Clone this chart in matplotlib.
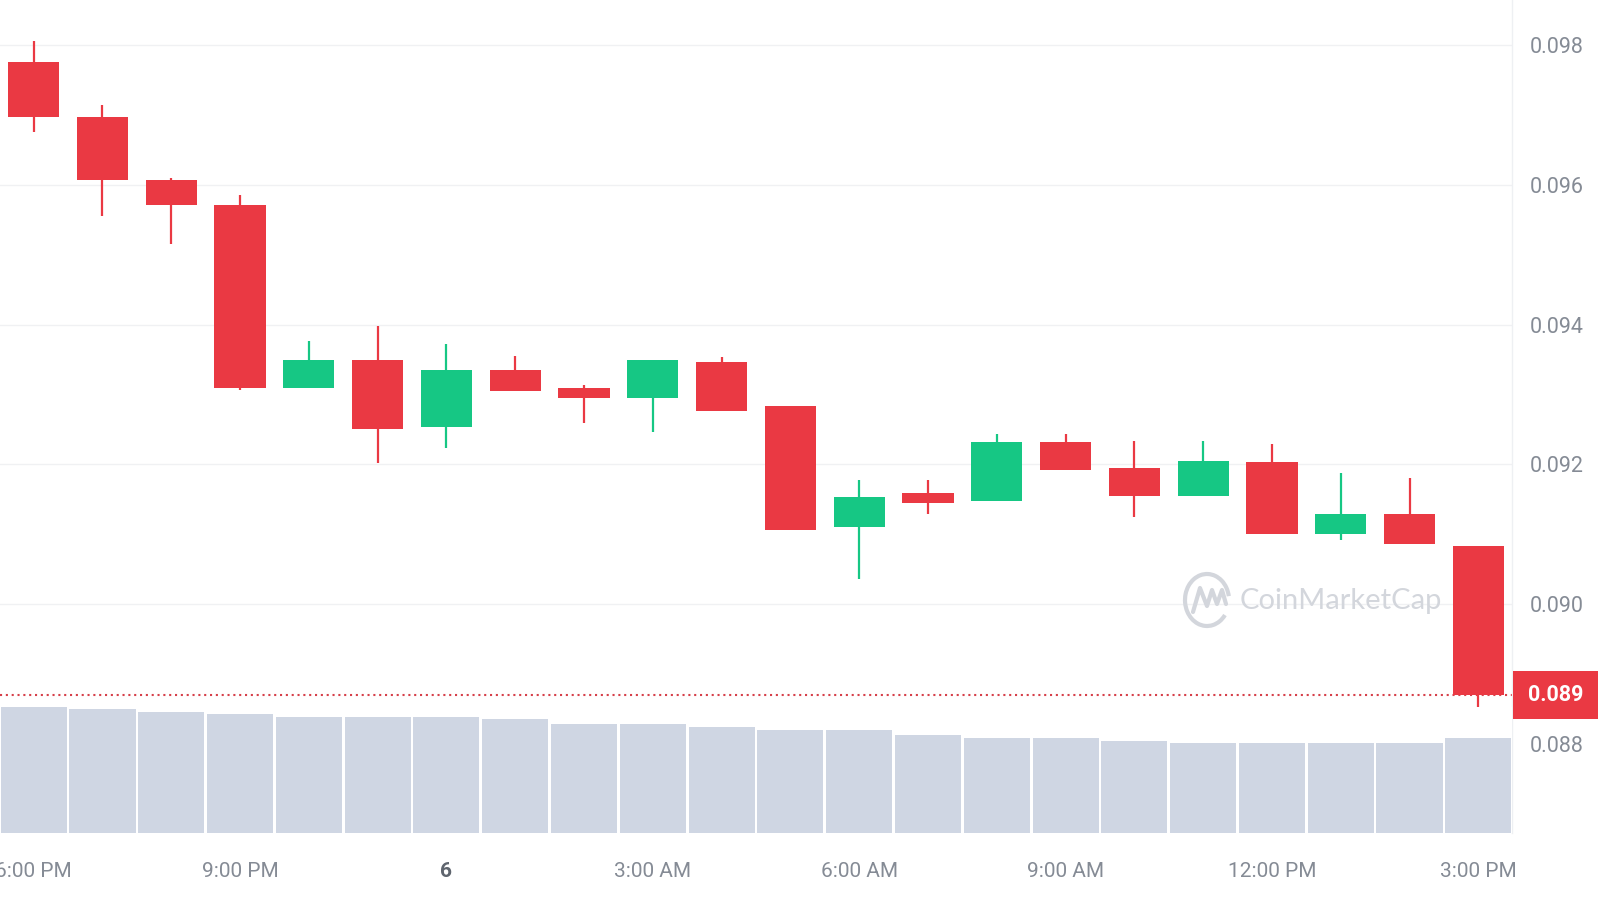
import matplotlib
matplotlib.use("Agg")
import matplotlib.pyplot as plt
import matplotlib.transforms as mtransforms
from matplotlib.patches import Arc, Rectangle

plt.rcParams['font.family'] = ['Roboto', 'DejaVu Sans']

# ---------------- data (hourly candles) ----------------
time_labels = ["6:00 PM", "9:00 PM", "6", "3:00 AM", "6:00 AM", "9:00 AM", "12:00 PM", "3:00 PM"]
label_idx = [0, 3, 6, 9, 12, 15, 18, 21]

opens = [0.09775, 0.09697, 0.09607, 0.09571, 0.09310, 0.09349, 0.09254, 0.09335,
         0.09309, 0.09295, 0.09346, 0.09283, 0.09111, 0.09159, 0.09148, 0.09232,
         0.09195, 0.09155, 0.09203, 0.09100, 0.09129, 0.09084]
highs = [0.09805, 0.09713, 0.09610, 0.09585, 0.09377, 0.09398, 0.09372, 0.09355,
         0.09314, 0.09349, 0.09353, 0.09283, 0.09178, 0.09178, 0.09243, 0.09243,
         0.09233, 0.09233, 0.09229, 0.09188, 0.09180, 0.09084]
lows = [0.09675, 0.09555, 0.09515, 0.09306, 0.09309, 0.09202, 0.09224, 0.09305,
        0.09259, 0.09247, 0.09276, 0.09107, 0.09037, 0.09129, 0.09148, 0.09192,
        0.09125, 0.09155, 0.09100, 0.09092, 0.09086, 0.08854]
closes = [0.09697, 0.09607, 0.09571, 0.09310, 0.09349, 0.09251, 0.09335, 0.09305,
          0.09295, 0.09349, 0.09276, 0.09107, 0.09154, 0.09145, 0.09232, 0.09192,
          0.09155, 0.09205, 0.09100, 0.09129, 0.09086, 0.08870]
volumes = [126.7, 124.0, 121.0, 119.0, 116.0, 116.0, 116.0, 114.0, 109.0, 109.0, 106.0,
           103.3, 103.3, 98.3, 95.0, 95.7, 92.7, 90.7, 90.7, 90.7, 90.7, 95.0]
price_ticks = [0.088, 0.090, 0.092, 0.094, 0.096, 0.098]

RED = '#ea3943'
GREEN = '#16c784'
VOLC = '#cfd6e3'
TICKC = '#858b95'

fig = plt.figure(figsize=(16, 9), dpi=100)
fig.patch.set_facecolor('white')

# ---------------- price axes ----------------
ax = fig.add_axes([0, 0.0741, 0.945, 0.9259])
n = len(opens)
xs = list(range(n))
cols = [GREEN if c >= o else RED for o, c in zip(opens, closes)]
ax.vlines(xs, lows, highs, colors=cols, linewidth=1.6, zorder=3)
bottoms = [min(o, c) for o, c in zip(opens, closes)]
heights = [max(abs(c - o), 0.00004) for o, c in zip(opens, closes)]
ax.bar(xs, heights, bottom=bottoms, width=0.745, color=cols, zorder=4, linewidth=0)

ax.set_xlim(-0.49, 21.49)
ax.set_ylim(0.086731, 0.098636)
ax.set_xticks([])
ax.yaxis.tick_right()
ax.set_yticks(price_ticks)
ax.set_yticklabels([f"{v:.3f}" for v in price_ticks])
ax.tick_params(axis='y', length=0, pad=12.5, labelsize=15.5, labelcolor=TICKC)
ax.grid(axis='y', color='#f0f1f3', linewidth=1, zorder=0)
for s in ['top', 'left', 'bottom']:
    ax.spines[s].set_visible(False)
ax.spines['right'].set_color('#eef0f3')
ax.spines['right'].set_linewidth(1)

# last price dotted line and tag
last = closes[-1]
ax.axhline(last, color='#d6404a', linestyle=(0, (1, 1.8)), linewidth=1.5, zorder=2)
blend = mtransforms.blended_transform_factory(ax.transAxes, ax.transData)
span = ax.get_ylim()[1] - ax.get_ylim()[0]
px_h = span / (0.9259 * 900)
ax.add_patch(Rectangle((1513 / 1512, last - 24 * px_h), 85 / 1512, 48 * px_h,
                       transform=blend, facecolor=RED, edgecolor='none',
                       clip_on=False, zorder=6))
ax.text(1556 / 1512, last, f"{last:.3f}", transform=blend, ha='center', va='center',
        color='white', fontsize=15.5, fontweight='bold', zorder=7, clip_on=False)

# ---------------- volume axes ----------------
axv = fig.add_axes([0, 0.0741, 0.945, 0.1407], zorder=5)
axv.bar(xs, volumes, width=0.96, color=VOLC, linewidth=0)
axv.set_xlim(-0.49, 21.49)
axv.set_ylim(0, max(volumes))
axv.set_facecolor('white')
axv.set_yticks([])
axv.set_xticks(label_idx)
axv.set_xticklabels(time_labels)
axv.tick_params(axis='x', length=0, pad=21, labelsize=15, labelcolor=TICKC)
for lbl in axv.get_xticklabels():
    if lbl.get_text() == "6":
        lbl.set_fontweight('bold')
        lbl.set_color('#5f656e')
for s in axv.spines.values():
    s.set_visible(False)

# ---------------- watermark ----------------
axo = fig.add_axes([0, 0, 1, 1], zorder=1)
axo.set_xlim(0, 1600)
axo.set_ylim(900, 0)
axo.axis('off')
wm = '#d3d6dc'
axo.add_patch(Arc((1207, 600), 44, 52, theta1=40, theta2=350, color=wm, linewidth=3))
axo.plot([1193, 1200, 1207, 1212, 1217, 1222, 1226],
         [612, 588, 606, 590, 604, 590, 604], color=wm, linewidth=3,
         solid_joinstyle='round', solid_capstyle='round')
axo.text(1341, 601, "CoinMarketCap", ha='center', va='center', color=wm,
         fontsize=21, family=['Lato', 'DejaVu Sans'])

fig.savefig("out.png", dpi=100, facecolor='white')
